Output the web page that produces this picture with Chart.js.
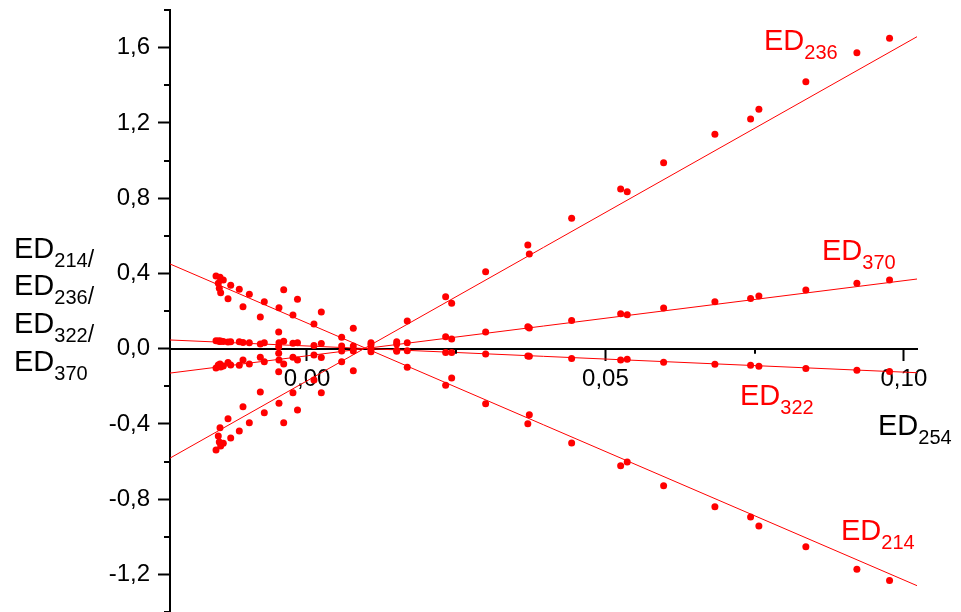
<!DOCTYPE html>
<html><head><meta charset="utf-8">
<script src="https://cdn.jsdelivr.net/npm/chart.js@4/dist/chart.umd.min.js"></script>
<style>html,body{margin:0;padding:0;background:#fff}canvas{display:block}</style>
</head><body><canvas id="c" width="961" height="612"></canvas>
<script>
// ED254 (x) shared by all four ratio series
const ed254 = [0.05255,0.05365,0.05975,0.06834,0.07432,0.07571,0.08358,0.09213,0.09760,
  0.04434,0.03700,0.03725,0.02993,0.02424,0.02323,0.01680,0.01503,0.01072,0.00776,0.00581,
  0.00240,0.00117,-0.00159,-0.00235,-0.00390,-0.00469,-0.00474,-0.00715,-0.00782,-0.00966,
  -0.01072,-0.01134,-0.01278,-0.01323,-0.01402,-0.01446,-0.01457,-0.01469,-0.01486,-0.01524];
const ed236 = [0.848,0.834,0.988,1.139,1.221,1.272,1.419,1.573,1.650,
  0.693,0.551,0.503,0.409,0.241,0.276,0.147,0.037,0.031,-0.117,-0.070,
  -0.234,-0.167,-0.326,-0.234,-0.394,-0.291,-0.123,-0.341,-0.231,-0.394,
  -0.309,-0.438,-0.475,-0.373,-0.503,-0.518,-0.421,-0.497,-0.465,-0.539];
const ed370 = [0.186,0.180,0.216,0.249,0.267,0.280,0.312,0.347,0.365,
  0.150,0.116,0.110,0.088,0.051,0.063,0.031,0.024,0.020,-0.013,-0.013,
  -0.047,-0.034,-0.061,-0.046,-0.082,-0.061,-0.025,-0.070,-0.046,-0.082,
  -0.061,-0.089,-0.087,-0.074,-0.093,-0.098,-0.082,-0.095,-0.087,-0.103];
const ed322 = [-0.061,-0.057,-0.073,-0.083,-0.089,-0.094,-0.105,-0.115,-0.121,
  -0.052,-0.039,-0.041,-0.029,-0.020,-0.020,-0.011,-0.008,-0.002,0.014,0.014,
  0.027,0.016,0.031,0.028,0.039,0.031,0.010,0.031,0.024,0.031,
  0.032,0.037,0.037,0.035,0.038,0.040,0.038,0.040,0.040,0.042];
const ed214 = [-0.623,-0.603,-0.729,-0.841,-0.895,-0.943,-1.053,-1.173,-1.232,
  -0.502,-0.399,-0.351,-0.293,-0.156,-0.195,-0.099,-0.014,-0.016,0.108,0.060,
  0.195,0.131,0.262,0.179,0.313,0.217,0.088,0.249,0.168,0.289,
  0.223,0.315,0.337,0.265,0.365,0.297,0.379,0.321,0.347,0.386];
// fitted straight lines: values at the two ends of the x axis
const fitX   = [-0.02295, 0.1022];
const fit236 = [-0.582, 1.658];
const fit370 = [-0.130, 0.370];
const fit322 = [0.046, -0.128];
const fit214 = [0.450, -1.260];
// axis ticks
const xMajor = [0, 0.05, 0.10];
const xTickLabels = ['0,00', '0,05', '0,10'];
const xMinor = [0.025, 0.075];
const yMajor = [-1.2, -0.8, -0.4, 0, 0.4, 0.8, 1.2, 1.6];
const yTickLabels = ['-1,2', '-0,8', '-0,4', '0,0', '0,4', '0,8', '1,2', '1,6'];
const yMinor = [-1.4, -1.0, -0.6, -0.2, 0.2, 0.6, 1.0, 1.4, 1.8];

const RED = '#ff0000';
const FONT = '"Liberation Sans", Arial, sans-serif';

function pts(ys) { return ed254.map((x, i) => ({x: x, y: ys[i]})); }
function fit(ys) { return fitX.map((x, i) => ({x: x, y: ys[i]})); }
function idx(list, v) { return list.findIndex(m => Math.abs(m - v) < 1e-6); }

const labels = [
  {main: 'ED', sub: '236', tail: '', x: 764, y: 50, color: RED},
  {main: 'ED', sub: '370', tail: '', x: 822, y: 260, color: RED},
  {main: 'ED', sub: '322', tail: '', x: 740, y: 405, color: RED},
  {main: 'ED', sub: '214', tail: '', x: 841, y: 540, color: RED},
  {main: 'ED', sub: '254', tail: '', x: 878, y: 435, color: '#000'},
  {main: 'ED', sub: '214', tail: '/', x: 14, y: 258, color: '#000'},
  {main: 'ED', sub: '236', tail: '/', x: 14, y: 295, color: '#000'},
  {main: 'ED', sub: '322', tail: '/', x: 14, y: 333, color: '#000'},
  {main: 'ED', sub: '370', tail: '', x: 14, y: 371, color: '#000'}
];

const extras = {
  id: 'extras',
  afterDraw(chart) {
    const ctx = chart.ctx;
    const xs = chart.scales.x, ys = chart.scales.y;
    ctx.save();
    ctx.strokeStyle = '#000';
    ctx.lineWidth = 2;
    const y0 = ys.getPixelForValue(0);
    xMinor.forEach(v => {
      const px = Math.round(xs.getPixelForValue(v));
      ctx.beginPath(); ctx.moveTo(px, y0); ctx.lineTo(px, y0 + 5); ctx.stroke();
    });
    const left = chart.chartArea.left;
    yMinor.forEach(v => {
      const py = Math.round(ys.getPixelForValue(v));
      ctx.beginPath(); ctx.moveTo(left, py); ctx.lineTo(left - 6, py); ctx.stroke();
    });
    ctx.textAlign = 'left';
    ctx.textBaseline = 'alphabetic';
    labels.forEach(l => {
      ctx.fillStyle = l.color;
      ctx.font = '29px ' + FONT;
      ctx.fillText(l.main, l.x, l.y);
      const w = ctx.measureText(l.main).width;
      ctx.font = '20px ' + FONT;
      ctx.fillText(l.sub, l.x + w, l.y + 9);
      const w2 = ctx.measureText(l.sub).width;
      if (l.tail) {
        ctx.font = '23px ' + FONT;
        ctx.fillText(l.tail, l.x + w + w2, l.y + 9);
      }
    });
    ctx.restore();
  }
};

const pointDs = (ys) => ({type: 'scatter', data: pts(ys), backgroundColor: RED, borderWidth: 0, pointRadius: 3.5, pointHoverRadius: 3.5});
const lineDs = (ys) => ({type: 'scatter', data: fit(ys), showLine: true, borderColor: RED, borderWidth: 1, pointRadius: 0, fill: false});

new Chart(document.getElementById('c'), {
  type: 'scatter',
  data: {datasets: [
    pointDs(ed236), pointDs(ed370), pointDs(ed322), pointDs(ed214),
    lineDs(fit236), lineDs(fit370), lineDs(fit322), lineDs(fit214)
  ]},
  options: {
    responsive: false, animation: false, devicePixelRatio: 1,
    layout: {autoPadding: false, padding: {left: 0, right: 44, top: 10, bottom: 0}},
    plugins: {legend: {display: false}, tooltip: {enabled: false}},
    scales: {
      x: {
        type: 'linear', min: fitX[0], max: fitX[1], position: {y: 0},
        afterBuildTicks: s => { s.ticks = xMajor.map(v => ({value: v})); },
        afterFit: s => { s.paddingLeft = 0; s.paddingRight = 0; s.paddingTop = 0; s.paddingBottom = 0; },
        grid: {drawOnChartArea: false, drawTicks: true, tickLength: 11, tickColor: '#000', tickWidth: 2},
        border: {display: true, color: '#000', width: 2},
        ticks: {autoSkip: false, maxRotation: 0, color: '#000', padding: 5, font: {size: 24, family: FONT},
          callback: v => { const i = idx(xMajor, v); return i >= 0 ? xTickLabels[i] : ''; }}
      },
      y: {
        type: 'linear', min: -1.4, max: 1.8, position: 'left',
        afterBuildTicks: s => { s.ticks = yMajor.map(v => ({value: v})); },
        afterFit: s => { s.width = 170; s.paddingTop = 0; s.paddingBottom = 0; s.paddingLeft = 0; s.paddingRight = 0; },
        grid: {drawOnChartArea: false, drawTicks: true, tickLength: 12, tickColor: '#000', tickWidth: 2},
        border: {display: true, color: '#000', width: 2},
        ticks: {autoSkip: false, color: '#000', padding: 8, font: {size: 24, family: FONT},
          callback: v => { const i = idx(yMajor, v); return i >= 0 ? yTickLabels[i] : ''; }}
      }
    }
  },
  plugins: [extras]
});
</script></body></html>
